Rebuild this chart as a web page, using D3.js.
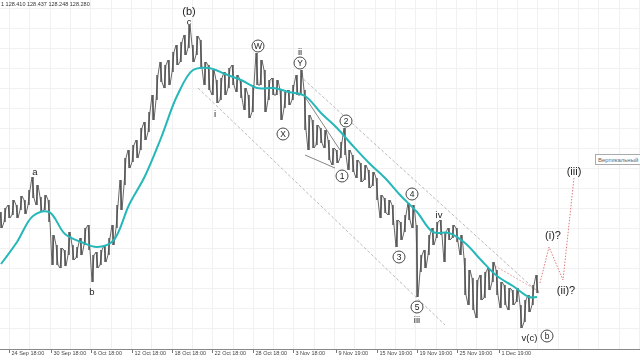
<!DOCTYPE html>
<html>
<head>
<meta charset="utf-8">
<script src="https://cdn.jsdelivr.net/npm/d3@7"></script>
<style>
  html, body { margin: 0; padding: 0; background: #fff; }
  svg { display: block; }
</style>
</head>
<body>
<div id="chart"></div>
<script>
/* Wave count chart */

const headerText = "1  128.410 128.437 128.248 128.280"

// one bar per index, high and low
const barHigh = [
  128.88, 128.92, 128.95, 129.00, 128.95, 129.04, 129.00, 129.10, 129.23, 129.15,
  129.03, 129.05, 129.00, 128.65, 128.55, 128.52, 128.50, 128.68, 128.55, 128.53,
  128.62, 128.72, 128.75, 128.45, 128.48, 128.50, 128.55, 128.62, 128.75, 128.95,
  129.20, 129.42, 129.50, 129.55, 129.60, 129.72, 129.78, 129.88, 130.05, 130.25,
  130.38, 130.35, 130.40, 130.48, 130.55, 130.58, 130.65, 130.75, 130.55, 130.64,
  130.60, 130.38, 130.35, 130.30, 130.20, 130.22, 130.28, 130.32, 130.35, 130.25,
  130.20, 130.12, 130.05, 130.15, 130.47, 130.40, 130.30, 130.20, 130.22, 130.20,
  130.10, 130.08, 130.10, 130.15, 130.25, 130.30, 130.10, 129.85, 129.80, 129.75,
  129.72, 129.70, 129.60, 129.52, 129.50, 129.58, 129.72, 129.50, 129.45, 129.40,
  129.37, 129.35, 129.30, 129.28, 129.22, 129.05, 129.02, 129.00, 128.95, 128.80,
  128.78, 128.85, 128.97, 128.95, 128.75, 128.45, 128.50, 128.65, 128.72, 128.78,
  128.80, 128.68, 128.72, 128.75, 128.72, 128.65, 128.42, 128.30, 128.22, 128.20,
  128.25, 128.28, 128.32, 128.38, 128.30, 128.18, 128.15, 128.12, 128.10, 128.12,
  127.95, 128.00, 128.05, 128.15, 128.25
]
const barLow = [
  128.72, 128.78, 128.82, 128.85, 128.82, 128.90, 128.86, 128.95, 129.02, 128.95,
  128.88, 128.90, 128.78, 128.35, 128.35, 128.32, 128.34, 128.45, 128.40, 128.42,
  128.45, 128.55, 128.50, 128.18, 128.32, 128.35, 128.38, 128.45, 128.55, 128.72,
  128.90, 129.15, 129.32, 129.38, 129.42, 129.50, 129.60, 129.68, 129.80, 130.00,
  130.18, 130.12, 130.15, 130.28, 130.35, 130.38, 130.45, 130.52, 130.38, 130.45,
  130.32, 130.15, 130.10, 130.05, 129.97, 130.00, 130.05, 130.12, 130.15, 130.08,
  130.02, 129.90, 129.82, 129.88, 130.15, 130.15, 129.88, 130.00, 130.05, 130.05,
  129.80, 129.92, 129.95, 130.00, 130.05, 130.05, 129.70, 129.50, 129.52, 129.55,
  129.57, 129.52, 129.40, 129.35, 129.37, 129.42, 129.45, 129.30, 129.28, 129.22,
  129.18, 129.20, 129.12, 129.14, 129.00, 128.82, 128.87, 128.85, 128.75, 128.53,
  128.60, 128.68, 128.80, 128.72, 128.03, 128.28, 128.32, 128.45, 128.55, 128.62,
  128.65, 128.38, 128.60, 128.62, 128.58, 128.45, 128.05, 127.95, 127.90, 127.82,
  128.00, 128.02, 128.10, 128.18, 128.05, 127.92, 127.95, 127.90, 127.95, 127.98,
  127.72, 127.78, 127.88, 127.95, 128.07
]

// moving average, read every fourth bar
const maIndex = [0, 4, 8, 12, 16, 20, 24, 28, 32, 36, 40, 44, 48, 52, 56, 60, 64,
  68, 72, 76, 80, 84, 88, 92, 96, 100, 104, 108, 112, 116, 120, 124, 128, 132, 134]
const maValue = [128.36, 128.58, 128.84, 128.88, 128.66, 128.58, 128.53, 128.59,
  128.95, 129.24, 129.62, 130.04, 130.30, 130.32, 130.26, 130.20, 130.12, 130.12,
  130.08, 130.04, 129.87, 129.72, 129.54, 129.37, 129.22, 129.04, 128.88, 128.68,
  128.67, 128.57, 128.40, 128.24, 128.14, 128.03, 128.03]

const tickIndex = [2, 12.5, 22.5, 32.75, 42.75, 52.75, 63, 73, 83.75, 94, 104, 114, 124.5]
const tickLabels = ["24 Sep 18:00", "30 Sep 18:00", "6 Oct 18:00", "12 Oct 18:00",
  "18 Oct 18:00", "22 Oct 18:00", "28 Oct 18:00", "3 Nov 18:00", "9 Nov 19:00",
  "15 Nov 19:00", "19 Nov 19:00", "25 Nov 19:00", "1 Dec 19:00"]

// wave labels: [text, bar index, price]
const bigLabels = [["(b)", 47, 130.89], ["(i)?", 138, 128.65], ["(ii)?", 141.25, 128.10],
  ["(iii)", 143.25, 129.29]]
const smallLabels = [["c", 47, 130.785], ["a", 8.5, 129.29], ["b", 22.75, 128.09],
  ["i", 53.5, 129.87], ["ii", 74.75, 130.49], ["iii", 104, 127.81], ["iv", 109.5, 128.86],
  ["v(c)", 132.1, 127.63]]
const circledLabels = [["W", 64.25, 130.54], ["Y", 74.75, 130.37], ["X", 70.5, 129.66],
  ["1", 85.25, 129.24], ["2", 86.25, 129.79], ["3", 99.5, 128.43], ["4", 102.75, 129.06],
  ["5", 104, 127.93], ["b", 136.5, 127.64]]

// trend lines: [[index, price], [index, price]]
const channelLines = [[[74.75, 130.24], [134.75, 128.06]], [[49.25, 130.12], [111, 127.75]]]
const pinkLine = [[123.5, 128.34], [134.75, 128.08]]
const plainLines = [[[76, 129.45], [83.5, 129.32]], [[76, 130.03], [84.75, 129.50]]]
const forecastPath = [[134.75, 128.17], [137, 128.53], [140.5, 128.20], [143.25, 129.22]]

class WaveChart {

  constructor (el, width, height) {
    this.rootElement = el
    this.width = width
    this.height = height
  }

  draw () {
    const W = this.width
    const H = this.height
    const font = "'Liberation Sans', Arial, sans-serif"

    // slight opacity keeps the text on grayscale antialiasing
    const svg = d3.select(this.rootElement).append("svg")
      .attr("width", W)
      .attr("height", H)
      .style("font-family", font)
      .style("opacity", 0.995)

    const x = d3.scaleLinear().domain([0, 160]).range([1, 641])
    const y = d3.scaleLinear().domain([127.4, 131]).range([360, 0])

    // faint grid
    const grid = svg.append("g").attr("stroke", "#f1f1f1").attr("stroke-width", 1)
    grid.selectAll("line.v").data(d3.range(2, 160, 5.08)).join("line")
      .attr("class", "v")
      .attr("x1", d => Math.round(x(d)) + 0.5).attr("x2", d => Math.round(x(d)) + 0.5)
      .attr("y1", 0).attr("y2", 349)
    grid.selectAll("line.h").data(d3.range(130.92, 127.6, -0.2)).join("line")
      .attr("class", "h")
      .attr("x1", 0).attr("x2", W)
      .attr("y1", d => Math.round(y(d)) + 0.5).attr("y2", d => Math.round(y(d)) + 0.5)

    const seg = d3.line().x(d => x(d[0])).y(d => y(d[1]))

    // channel lines
    svg.selectAll("path.channel").data(channelLines).join("path")
      .attr("class", "channel")
      .attr("d", seg)
      .attr("fill", "none")
      .attr("stroke", "#a8a8a8")
      .attr("stroke-width", 0.8)
      .attr("stroke-dasharray", "3,2")

    svg.append("path")
      .attr("d", seg(pinkLine))
      .attr("fill", "none")
      .attr("stroke", "#e6a0a0")
      .attr("stroke-width", 0.9)
      .attr("stroke-dasharray", "2,1.5")

    svg.selectAll("path.plain").data(plainLines).join("path")
      .attr("class", "plain")
      .attr("d", seg)
      .attr("fill", "none")
      .attr("stroke", "#666")
      .attr("stroke-width", 0.8)

    // price bars
    const bars = barHigh.map((h, i) => ({ i, h, l: barLow[i] }))
    const zig = []
    bars.forEach(b => {
      if (b.i % 2 === 0) {
        zig.push([x(b.i) - 1, y(b.h)], [x(b.i) + 1, y(b.l)])
      } else {
        zig.push([x(b.i) - 1, y(b.l)], [x(b.i) + 1, y(b.h)])
      }
    })
    svg.append("path")
      .attr("d", d3.line()(zig))
      .attr("fill", "none")
      .attr("stroke", "#555")
      .attr("stroke-width", 0.9)

    svg.selectAll("line.bar").data(bars).join("line")
      .attr("class", "bar")
      .attr("x1", d => x(d.i)).attr("x2", d => x(d.i))
      .attr("y1", d => y(d.h)).attr("y2", d => y(d.l))
      .attr("stroke", "#4a4a4a")
      .attr("stroke-width", 1.4)

    // moving average
    svg.append("path")
      .datum(maIndex.map((d, i) => [d, maValue[i]]))
      .attr("d", d3.line().x(d => x(d[0])).y(d => y(d[1])).curve(d3.curveCatmullRom))
      .attr("fill", "none")
      .attr("stroke", "#25b7b8")
      .attr("stroke-width", 2)

    // forecast
    svg.append("path")
      .attr("d", seg(forecastPath))
      .attr("fill", "none")
      .attr("stroke", "#e07a7a")
      .attr("stroke-width", 1)
      .attr("stroke-dasharray", "1.5,1.5")

    // labels
    svg.selectAll("text.big").data(bigLabels).join("text")
      .attr("class", "big")
      .attr("x", d => x(d[1])).attr("y", d => y(d[2]))
      .attr("text-anchor", "middle")
      .attr("dominant-baseline", "central")
      .style("font-size", "11px")
      .attr("fill", "#222")
      .text(d => d[0])

    svg.selectAll("text.small").data(smallLabels).join("text")
      .attr("class", "small")
      .attr("x", d => x(d[1])).attr("y", d => y(d[2]))
      .attr("text-anchor", "middle")
      .attr("dominant-baseline", "central")
      .style("font-size", "9.5px")
      .attr("fill", "#222")
      .text(d => d[0])

    const circ = svg.selectAll("g.circ").data(circledLabels).join("g")
      .attr("class", "circ")
      .attr("transform", d => `translate(${x(d[1])},${y(d[2])})`)
    circ.append("circle")
      .attr("r", 6)
      .attr("fill", "#fff")
      .attr("stroke", "#333")
      .attr("stroke-width", 0.9)
    circ.append("text")
      .attr("text-anchor", "middle")
      .attr("dominant-baseline", "central")
      .attr("y", 0.3)
      .style("font-size", "8.5px")
      .attr("fill", "#222")
      .text(d => d[0])

    // x axis
    const axis = d3.axisBottom(x)
      .tickValues(tickIndex)
      .tickFormat((d, i) => tickLabels[i])
      .tickSize(4)
    const ax = svg.append("g")
      .attr("transform", "translate(0,349)")
      .call(axis)
    ax.select(".domain").remove()
    ax.selectAll(".tick line").attr("stroke", "#777")
    ax.selectAll(".tick text")
      .attr("text-anchor", "start")
      .attr("x", 2)
      .attr("y", 2)
      .attr("fill", "#444")
      .style("font-family", font)
      .style("font-size", "5.5px")
    svg.append("line")
      .attr("x1", 0).attr("x2", W)
      .attr("y1", 349.5).attr("y2", 349.5)
      .attr("stroke", "#888")

    // header and object box
    svg.append("text")
      .attr("x", 1).attr("y", 6)
      .style("font-size", "5.5px")
      .attr("fill", "#333")
      .text(headerText)

    const box = svg.append("g").attr("transform", "translate(595,154)")
    box.append("rect")
      .attr("x", 0.5).attr("y", 0.5)
      .attr("width", 60).attr("height", 10)
      .attr("fill", "#fff")
      .attr("stroke", "#aaa")
    box.append("text")
      .attr("x", 3).attr("y", 7.5)
      .style("font-size", "6px")
      .attr("fill", "#666")
      .text("Вертикальный")
  }
}

const chart = new WaveChart(document.getElementById("chart"), 640, 360)
chart.draw()
</script>
</body>
</html>
